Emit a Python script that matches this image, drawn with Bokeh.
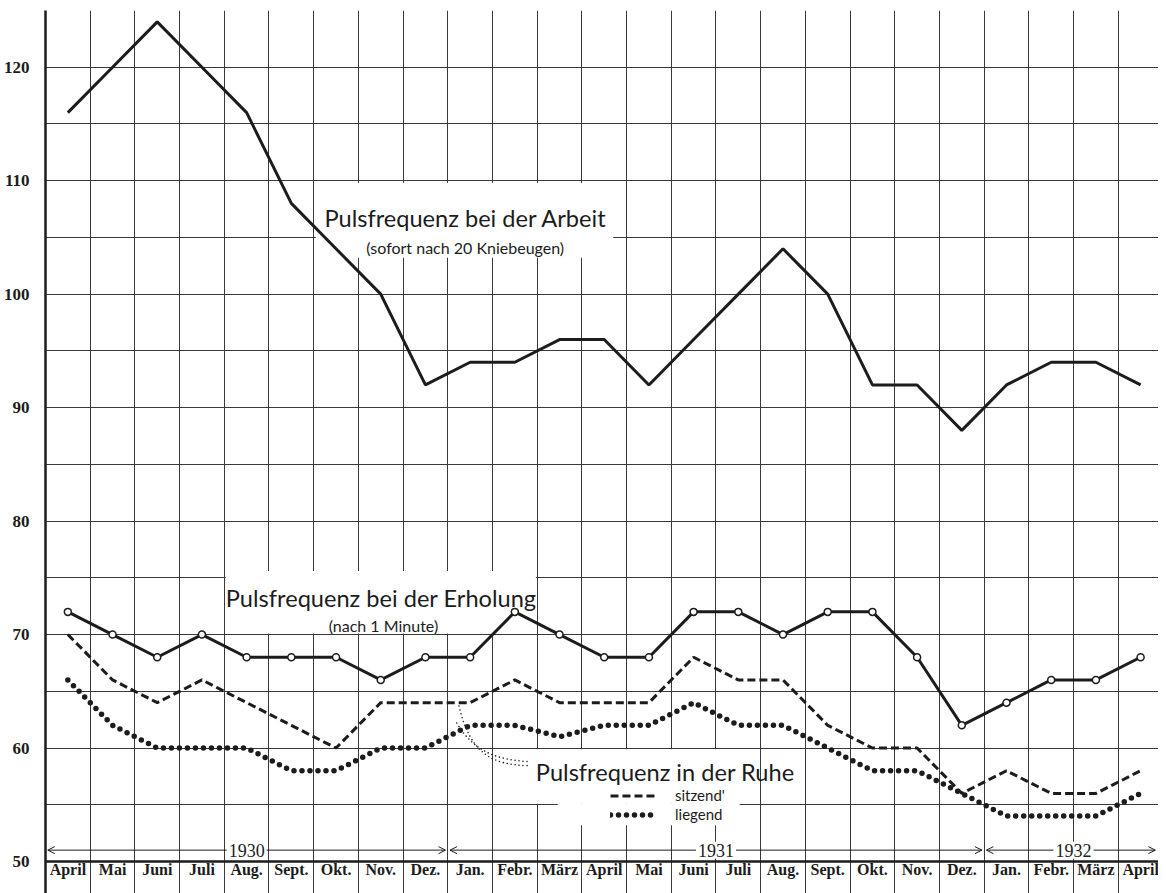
from bokeh.plotting import figure
from bokeh.models import (Range1d, FixedTicker, Arrow, OpenHead, Label, Span,
                          Legend, LegendItem, ColumnDataSource)
from bokeh.core.properties import value
from bokeh.embed import file_html
from bokeh.resources import INLINE

# ---------------- data ----------------
months = ["April", "Mai", "Juni", "Juli", "Aug.", "Sept.", "Okt.", "Nov.", "Dez.",
          "Jan.", "Febr.", "März", "April", "Mai", "Juni", "Juli", "Aug.", "Sept.",
          "Okt.", "Nov.", "Dez.", "Jan.", "Febr.", "März", "April"]
years = ["1930", "1931", "1932"]
year_first = [0, 9, 21]
year_last = [8, 20, 24]
arbeit = [116, 120, 124, 120, 116, 108, 104, 100, 92, 94, 94, 96, 96, 92, 96, 100,
          104, 100, 92, 92, 88, 92, 94, 94, 92]
erholung = [72, 70, 68, 70, 68, 68, 68, 66, 68, 68, 72, 70, 68, 68, 72, 72, 70, 72,
            72, 68, 62, 64, 66, 66, 68]
sitzend = [70, 66, 64, 66, 64, 62, 60, 64, 64, 64, 66, 64, 64, 64, 68, 66, 66, 62,
           60, 60, 56, 58, 56, 56, 58]
liegend = [66, 62, 60, 60, 60, 58, 58, 60, 60, 62, 62, 61, 62, 62, 64, 62, 62, 60,
           58, 58, 56, 54, 54, 54, 56]
y_label_ticks = [50, 60, 70, 80, 90, 100, 110, 120]
y_grid_ticks = list(range(50, 130, 5))

# ---------------- styling ----------------
INK = "#1c1c1c"
GRID = "#3a3a3a"
NARROW = "Liberation Sans Narrow"
TITLE_FONT = "Lato"

xs = list(range(len(months)))
src = ColumnDataSource(dict(x=xs, arbeit=arbeit, erholung=erholung,
                            sitzend=sitzend, liegend=liegend, month=months))

p = figure(width=1158, height=893,
           x_range=Range1d(-0.5, 24.4), y_range=Range1d(47.18, 125),
           output_backend="svg", toolbar_location=None,
           x_axis_location=None,
           min_border_left=35, min_border_right=0, min_border_top=10,
           min_border_bottom=0)
p.outline_line_color = None
p.background_fill_color = "white"
p.border_fill_color = "white"

# grid
p.xgrid.ticker = FixedTicker(ticks=[i - 0.5 for i in range(len(months) + 1)])
p.ygrid.ticker = FixedTicker(ticks=y_grid_ticks)
for g in (p.xgrid, p.ygrid):
    g.grid_line_color = GRID
    g.grid_line_width = 1
    g.grid_line_alpha = 1

# y axis
p.yaxis.ticker = FixedTicker(ticks=y_label_ticks)
p.yaxis.major_tick_line_color = None
p.yaxis.minor_tick_line_color = None
p.yaxis.axis_line_color = INK
p.yaxis.axis_line_width = 2.5
p.yaxis.major_label_standoff = 10
p.yaxis.major_label_text_font = NARROW
p.yaxis.major_label_text_font_style = "bold"
p.yaxis.major_label_text_font_size = "17px"
p.yaxis.major_label_text_color = INK

p.add_layout(Span(location=50, dimension="width", line_color=INK, line_width=2.4))

# white boxes behind the titles
p.quad(left=[5.55, 3.53, 10.42, 10.96], right=[12.2, 10.47, 15.03, 15.03],
       bottom=[103.2, 70.1, 55.08, 53.2], top=[109.8, 75.6, 59.9, 55.08],
       fill_color="white", line_color=None)

# series
p.line("x", "arbeit", source=src, line_color=INK, line_width=3)
r_sitz = p.line("x", "sitzend", source=src, line_color=INK, line_width=3,
                line_dash="8 4")
r_lieg = p.line("x", "liegend", source=src, line_color=INK, line_width=5.5,
                line_dash="0 8", line_cap="round")
p.line("x", "erholung", source=src, line_color=INK, line_width=3)
p.scatter("x", "erholung", source=src, marker="circle", size=7,
          fill_color="white", line_color=INK, line_width=1.5)

# leader lines to the "Ruhe" label
p.bezier(x0=[8.75, 8.7], y0=[63.7, 62.2], x1=[10.3, 10.3], y1=[58.45, 58.8],
         cx0=[9.0, 9.1], cy0=[59.5, 59.6], cx1=[9.5, 9.6], cy1=[58.5, 59.0],
         line_color=INK, line_width=1.6, line_dash="0 4", line_cap="round")

# titles
p.text(x=[8.9, 7.01, 10.47], y=[106.69, 73.24, 57.92],
       text=["Pulsfrequenz bei der Arbeit", "Pulsfrequenz bei der Erholung",
             "Pulsfrequenz in der Ruhe"],
       text_align=["center", "center", "left"], text_baseline="alphabetic",
       text_font=value(TITLE_FONT), text_font_size="23.6px", text_color=INK)
p.text(x=[8.89, 7.06], y=[104.14, 70.77],
       text=["(sofort nach 20 Kniebeugen)", "(nach 1 Minute)"],
       text_align="center", text_baseline="alphabetic",
       text_font=value(TITLE_FONT), text_font_size="16px", text_color=INK)

# legend for the resting curves
legend = Legend(items=[LegendItem(label="sitzend'", renderers=[r_sitz]),
                       LegendItem(label="liegend", renderers=[r_lieg])],
                location=(565, 69.5), orientation="vertical",
                padding=0, margin=0, spacing=0,
                glyph_width=47, glyph_height=19, label_height=19,
                label_standoff=18, label_text_font=TITLE_FONT,
                label_text_font_size="15px", label_text_color=INK,
                border_line_color=None, background_fill_alpha=0)
p.add_layout(legend)

# month labels
p.text(x="x", y=49.3, text="month", source=src, text_align="center",
       text_baseline="middle", text_font=value(NARROW), text_font_style="bold",
       text_font_size="16px", text_color=INK)

# year spans with arrows
x_max = 24.4
for yr, a, b in zip(years, year_first, year_last):
    xs0 = a - 0.45
    xs1 = min(b + 0.45, x_max - 0.07)
    p.add_layout(Arrow(x_start=xs0, x_end=xs1, y_start=51, y_end=51,
                       line_color=INK, line_width=1,
                       start=OpenHead(size=7, line_width=1, line_color=INK),
                       end=OpenHead(size=7, line_width=1, line_color=INK)))
    p.add_layout(Label(x=(a + b) / 2, y=51, text=yr, text_align="center",
                       text_baseline="middle", text_font=NARROW,
                       text_font_size="18px", text_color=INK,
                       background_fill_color="white", padding=2))

open("out.html", "w").write(file_html(p, INLINE))
